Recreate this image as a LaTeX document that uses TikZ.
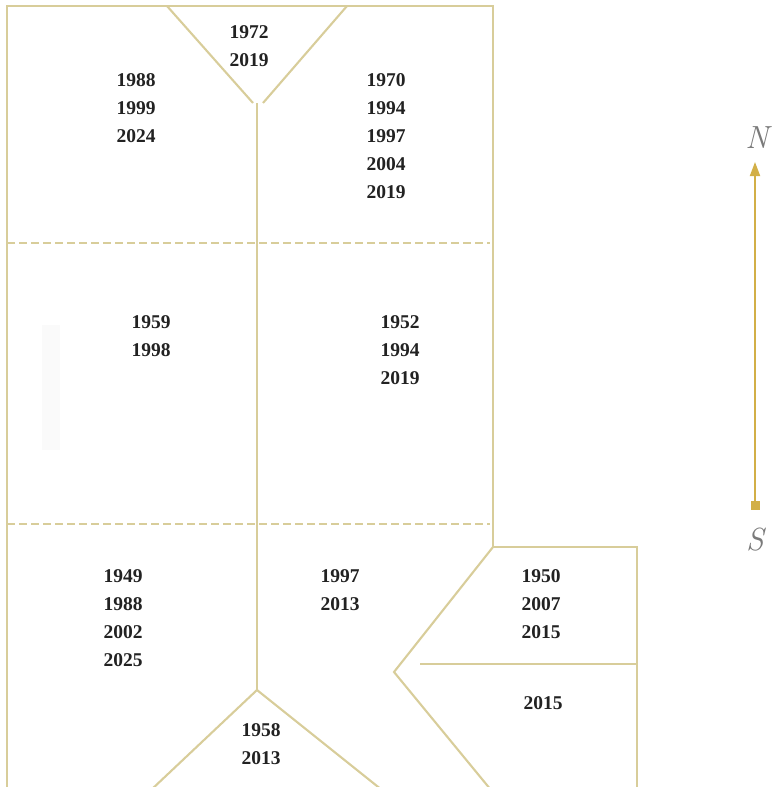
\documentclass[tikz,border=0pt]{standalone}
\usepackage{fontspec}
\newfontfamily\yearfont{Liberation Serif}
\usetikzlibrary{arrows.meta}
\definecolor{wall}{HTML}{D8CD9A}
\definecolor{gold}{HTML}{D2AF47}
\definecolor{ink}{HTML}{222222}
\definecolor{lbl}{HTML}{7A7A7A}
\begin{document}
\begin{tikzpicture}[x=1pt,y=-1pt,
  wallline/.style={draw=wall,line width=2.1pt,line join=miter},
  dashline/.style={draw=wall,line width=2.1pt,dash pattern=on 8pt off 4pt},
  years/.style={text=ink,align=center,font=\fontsize{19.5}{28}\selectfont\yearfont\bfseries,inner sep=0pt,anchor=north},
  compasslbl/.style={text=lbl,font=\fontsize{32}{34}\selectfont\itshape,inner sep=0pt}]
\useasboundingbox (0,0) rectangle (773,787);
% faint mark
\fill[black!2] (42,325) rectangle (60,450);
% outer walls
\draw[wallline] (7,790) -- (7,6) -- (493,6) -- (493,547) -- (637,547) -- (637,790);
% top triangle
\draw[wallline] (167,6) -- (253,103);
\draw[wallline] (347,6) -- (263,103);
% central spine
\draw[wallline] (257,103) -- (257,690);
% bottom triangle
\draw[wallline] (151,790) -- (257,690) -- (382,790);
% annex diagonals
\draw[wallline] (493,547) -- (394,672) -- (491,790);
\draw[wallline] (420,664) -- (637,664);
% dashed divisions
\draw[dashline] (7,243) -- (490,243);
\draw[dashline] (7,524) -- (490,524);
% labels
\node[years] (t1) at (249,25) {1972\\2019};
\node[years] (t2) at (136,73) {1988\\1999\\2024};
\node[years] (t3) at (386,73) {1970\\1994\\1997\\2004\\2019};
\node[years] (t4) at (151,315) {1959\\1998};
\node[years] (t5) at (400,315) {1952\\1994\\2019};
\node[years] (t6) at (123,569) {1949\\1988\\2002\\2025};
\node[years] (t7) at (340,569) {1997\\2013};
\node[years] (t8) at (541,569) {1950\\2007\\2015};
\node[years] (t9) at (543,696) {2015};
\node[years] (t10) at (261,723) {1958\\2013};
% compass
\node[compasslbl] (N) at (757,138) {N};
\node[compasslbl] (S) at (755,540) {S};
\node[fill=gold,minimum size=9pt,inner sep=0pt] (sq) at (755,505) {};
\coordinate (tip) at (755,162);
\draw[gold,line width=1.8pt,-{Triangle[length=14pt,width=10pt]}] (sq.center) -- (tip);
\end{tikzpicture}
\end{document}
